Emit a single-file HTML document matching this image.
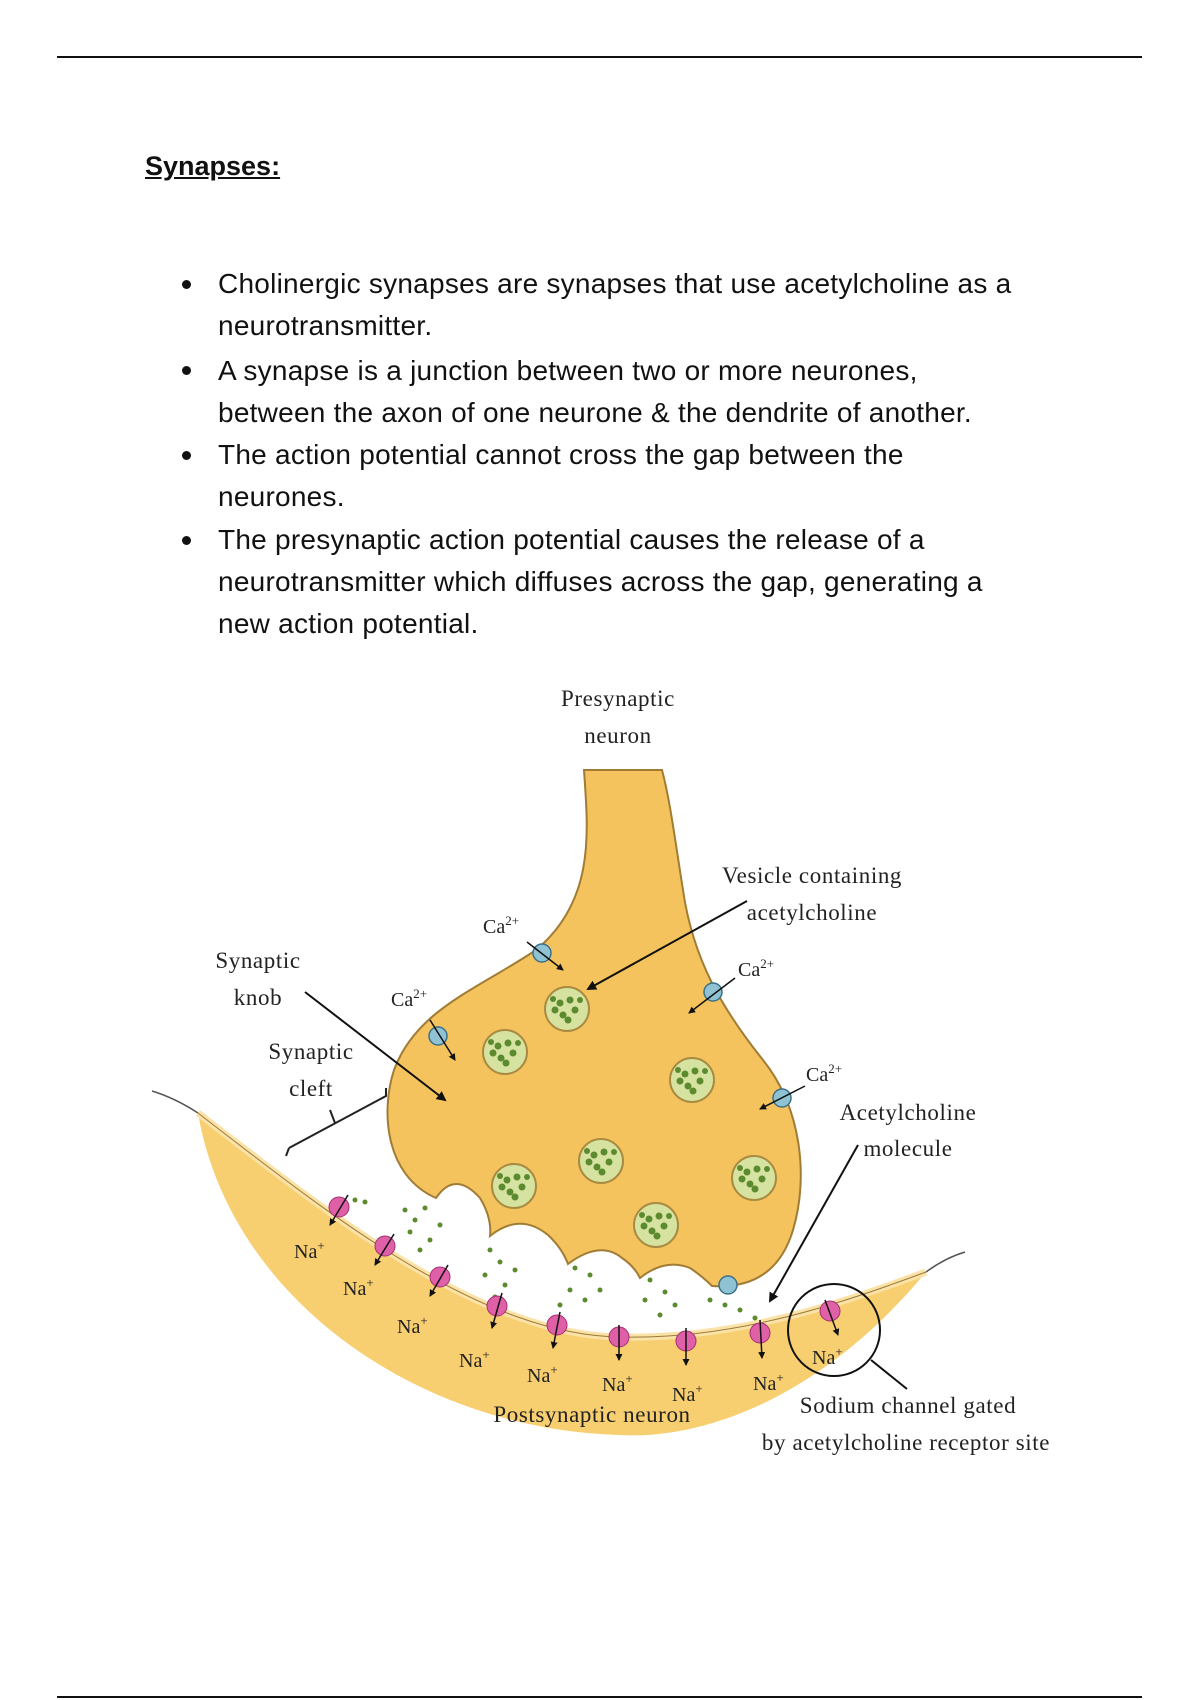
<!DOCTYPE html>
<html><head><meta charset="utf-8"><style>
body{margin:0;background:#fff;width:1200px;height:1700px;position:relative;overflow:hidden;font-family:"Liberation Sans",sans-serif;color:#111}
.hr{position:absolute;left:57px;width:1085px;height:2px;background:#111}
h1{position:absolute;left:145px;top:151px;margin:0;font-size:27px;font-weight:bold;text-decoration:underline}
.b{position:absolute;left:218px;font-size:28px;white-space:nowrap;line-height:42px;letter-spacing:0.25px}
.dot{position:absolute;left:182px;width:9px;height:9px;border-radius:50%;background:#111}
</style></head><body>
<div class="hr" style="top:56px"></div>
<h1>Synapses:</h1>
<div class="dot" style="top:280px"></div>
<div class="b" style="top:263px">Cholinergic synapses are synapses that use acetylcholine as a<br>neurotransmitter.</div>
<div class="dot" style="top:366px"></div>
<div class="b" style="top:350px">A synapse is a junction between two or more neurones,<br>between the axon of one neurone &amp; the dendrite of another.</div>
<div class="dot" style="top:451px"></div>
<div class="b" style="top:434px">The action potential cannot cross the gap between the<br>neurones.</div>
<div class="dot" style="top:536px"></div>
<div class="b" style="top:519px">The presynaptic action potential causes the release of a<br>neurotransmitter which diffuses across the gap, generating a<br>new action potential.</div>
<div class="hr" style="top:1696px"></div>
<svg width="1200" height="1700" style="position:absolute;left:0;top:0" font-family="Liberation Serif,serif" font-size="23" fill="#222" letter-spacing="0.6">
<defs><marker id="a" markerWidth="10" markerHeight="10" refX="8" refY="5" orient="auto" markerUnits="userSpaceOnUse"><path d="M0,0 L10,5 L0,10 Z" fill="#111"/></marker>
<marker id="s" markerWidth="7" markerHeight="7" refX="6" refY="3.5" orient="auto" markerUnits="userSpaceOnUse"><path d="M0,0 L7,3.5 L0,7 Z" fill="#111"/></marker></defs>
<path d="M152,1091 Q175,1098 198,1113" stroke="#555" fill="none" stroke-width="1.5"/>
<path d="M926,1272 Q945,1258 965,1252" stroke="#555" fill="none" stroke-width="1.5"/>
<path d="M198,1113 C330,1215 480,1335 620,1337 C740,1340 850,1300 926,1272 C820,1400 700,1440 620,1435 C420,1430 230,1300 198,1113 Z" fill="#f7cf70"/>
<path d="M198,1113 C330,1215 480,1335 620,1337 C740,1340 850,1300 926,1272" stroke="#fbe3a8" stroke-width="7" fill="none"/>
<path d="M198,1113 C330,1215 480,1335 620,1337 C740,1340 850,1300 926,1272" stroke="#9a7a3a" stroke-width="1" fill="none"/>
<path d="M584,770 C588,830 596,900 536,950 C476,990 416,1010 394,1070 C381,1110 384,1175 436,1198 Q455,1170 480,1198 Q492,1218 490,1236 Q520,1212 548,1235 Q562,1248 568,1264 Q600,1240 622,1258 Q634,1266 640,1278 Q665,1258 690,1268 Q702,1276 712,1286 Q775,1290 793,1230 C808,1180 803,1110 763,1060 C723,1010 693,960 683,890 C675,840 670,800 662,770 Z" fill="#f4c35e" stroke="#a07c34" stroke-width="2"/>
<g fill="#d6e3a0" stroke="#a88a40" stroke-width="2">
<circle cx="567" cy="1009" r="22"/><circle cx="505" cy="1052" r="22"/><circle cx="692" cy="1080" r="22"/><circle cx="601" cy="1161" r="22"/><circle cx="514" cy="1186" r="22"/><circle cx="754" cy="1178" r="22"/><circle cx="656" cy="1225" r="22"/></g>
<g fill="#5c8a2e">
<circle cx="560" cy="1003" r="3.5"/><circle cx="570" cy="1000" r="3.5"/><circle cx="575" cy="1010" r="3.5"/><circle cx="563" cy="1015" r="3.5"/><circle cx="555" cy="1010" r="3.5"/><circle cx="568" cy="1020" r="3.5"/><circle cx="580" cy="1000" r="3"/><circle cx="553" cy="999" r="3"/>
<circle cx="498" cy="1046" r="3.5"/><circle cx="508" cy="1043" r="3.5"/><circle cx="513" cy="1053" r="3.5"/><circle cx="501" cy="1058" r="3.5"/><circle cx="493" cy="1053" r="3.5"/><circle cx="506" cy="1063" r="3.5"/><circle cx="518" cy="1043" r="3"/><circle cx="491" cy="1042" r="3"/>
<circle cx="685" cy="1074" r="3.5"/><circle cx="695" cy="1071" r="3.5"/><circle cx="700" cy="1081" r="3.5"/><circle cx="688" cy="1086" r="3.5"/><circle cx="680" cy="1081" r="3.5"/><circle cx="693" cy="1091" r="3.5"/><circle cx="705" cy="1071" r="3"/><circle cx="678" cy="1070" r="3"/>
<circle cx="594" cy="1155" r="3.5"/><circle cx="604" cy="1152" r="3.5"/><circle cx="609" cy="1162" r="3.5"/><circle cx="597" cy="1167" r="3.5"/><circle cx="589" cy="1162" r="3.5"/><circle cx="602" cy="1172" r="3.5"/><circle cx="614" cy="1152" r="3"/><circle cx="587" cy="1151" r="3"/>
<circle cx="507" cy="1180" r="3.5"/><circle cx="517" cy="1177" r="3.5"/><circle cx="522" cy="1187" r="3.5"/><circle cx="510" cy="1192" r="3.5"/><circle cx="502" cy="1187" r="3.5"/><circle cx="515" cy="1197" r="3.5"/><circle cx="527" cy="1177" r="3"/><circle cx="500" cy="1176" r="3"/>
<circle cx="747" cy="1172" r="3.5"/><circle cx="757" cy="1169" r="3.5"/><circle cx="762" cy="1179" r="3.5"/><circle cx="750" cy="1184" r="3.5"/><circle cx="742" cy="1179" r="3.5"/><circle cx="755" cy="1189" r="3.5"/><circle cx="767" cy="1169" r="3"/><circle cx="740" cy="1168" r="3"/>
<circle cx="649" cy="1219" r="3.5"/><circle cx="659" cy="1216" r="3.5"/><circle cx="664" cy="1226" r="3.5"/><circle cx="652" cy="1231" r="3.5"/><circle cx="644" cy="1226" r="3.5"/><circle cx="657" cy="1236" r="3.5"/><circle cx="669" cy="1216" r="3"/><circle cx="642" cy="1215" r="3"/>
<circle cx="355" cy="1200" r="2.5"/><circle cx="365" cy="1202" r="2.5"/><circle cx="405" cy="1210" r="2.5"/><circle cx="415" cy="1220" r="2.5"/><circle cx="425" cy="1208" r="2.5"/><circle cx="410" cy="1232" r="2.5"/><circle cx="430" cy="1240" r="2.5"/><circle cx="440" cy="1225" r="2.5"/><circle cx="420" cy="1250" r="2.5"/>
<circle cx="490" cy="1250" r="2.5"/><circle cx="500" cy="1262" r="2.5"/><circle cx="485" cy="1275" r="2.5"/><circle cx="505" cy="1285" r="2.5"/><circle cx="495" cy="1297" r="2.5"/><circle cx="515" cy="1270" r="2.5"/>
<circle cx="575" cy="1268" r="2.5"/><circle cx="590" cy="1275" r="2.5"/><circle cx="570" cy="1290" r="2.5"/><circle cx="585" cy="1300" r="2.5"/><circle cx="600" cy="1290" r="2.5"/><circle cx="560" cy="1305" r="2.5"/>
<circle cx="650" cy="1280" r="2.5"/><circle cx="665" cy="1292" r="2.5"/><circle cx="645" cy="1300" r="2.5"/><circle cx="675" cy="1305" r="2.5"/><circle cx="660" cy="1315" r="2.5"/>
<circle cx="710" cy="1300" r="2.5"/><circle cx="725" cy="1305" r="2.5"/><circle cx="740" cy="1310" r="2.5"/><circle cx="755" cy="1318" r="2.5"/></g>
<g fill="#8fc3d4" stroke="#3c7088" stroke-width="1.5">
<circle cx="542" cy="953" r="9"/><circle cx="438" cy="1036" r="9"/><circle cx="713" cy="992" r="9"/><circle cx="782" cy="1098" r="9"/><circle cx="728" cy="1285" r="9"/></g>
<g fill="#e060a8" stroke="#a03070" stroke-width="1">
<circle cx="339" cy="1207" r="10"/><circle cx="385" cy="1246" r="10"/><circle cx="440" cy="1277" r="10"/><circle cx="497" cy="1306" r="10"/><circle cx="557" cy="1325" r="10"/><circle cx="619" cy="1337" r="10"/><circle cx="686" cy="1341" r="10"/><circle cx="760" cy="1333" r="10"/><circle cx="830" cy="1311" r="10"/></g>
<g stroke="#111" stroke-width="1.5" marker-end="url(#s)">
<line x1="348" y1="1195" x2="330" y2="1225"/><line x1="394" y1="1234" x2="375" y2="1265"/><line x1="448" y1="1265" x2="430" y2="1296"/><line x1="502" y1="1293" x2="492" y2="1328"/><line x1="560" y1="1312" x2="553" y2="1348"/><line x1="619" y1="1325" x2="619" y2="1360"/><line x1="686" y1="1328" x2="686" y2="1365"/><line x1="760" y1="1320" x2="762" y2="1358"/><line x1="825" y1="1300" x2="838" y2="1335"/>
<line x1="527" y1="942" x2="563" y2="970"/><line x1="430" y1="1020" x2="455" y2="1060"/><line x1="735" y1="978" x2="689" y2="1013"/><line x1="805" y1="1086" x2="760" y2="1109"/></g>
<g stroke="#111" stroke-width="2" marker-end="url(#a)" fill="none">
<line x1="747" y1="901" x2="588" y2="989"/><line x1="305" y1="992" x2="445" y2="1100"/><line x1="858" y1="1145" x2="770" y2="1301"/></g>
<path d="M289,1148 L286,1156 M289,1148 L386,1096 L386,1088 M335,1123 L330,1110" stroke="#222" stroke-width="2" fill="none"/>
<circle cx="834" cy="1330" r="46" fill="none" stroke="#111" stroke-width="2"/>
<line x1="871" y1="1360" x2="907" y2="1389" stroke="#111" stroke-width="2"/>
<g text-anchor="middle">
<text x="618" y="706">Presynaptic</text><text x="618" y="743">neuron</text>
<text x="812" y="883">Vesicle containing</text><text x="812" y="920">acetylcholine</text>
<text x="258" y="968">Synaptic</text><text x="258" y="1005">knob</text>
<text x="311" y="1059">Synaptic</text><text x="311" y="1096">cleft</text>
<text x="908" y="1120">Acetylcholine</text><text x="908" y="1156">molecule</text>
<text x="908" y="1413">Sodium channel gated</text><text x="906" y="1450">by acetylcholine receptor site</text>
<text x="592" y="1422">Postsynaptic neuron</text>
</g>
<g font-size="20" letter-spacing="0">
<text x="483" y="933">Ca<tspan dy="-8" font-size="13">2+</tspan></text>
<text x="391" y="1006">Ca<tspan dy="-8" font-size="13">2+</tspan></text>
<text x="738" y="976">Ca<tspan dy="-8" font-size="13">2+</tspan></text>
<text x="806" y="1081">Ca<tspan dy="-8" font-size="13">2+</tspan></text>
<text x="294" y="1258">Na<tspan dy="-8" font-size="13">+</tspan></text>
<text x="343" y="1295">Na<tspan dy="-8" font-size="13">+</tspan></text>
<text x="397" y="1333">Na<tspan dy="-8" font-size="13">+</tspan></text>
<text x="459" y="1367">Na<tspan dy="-8" font-size="13">+</tspan></text>
<text x="527" y="1382">Na<tspan dy="-8" font-size="13">+</tspan></text>
<text x="602" y="1391">Na<tspan dy="-8" font-size="13">+</tspan></text>
<text x="672" y="1401">Na<tspan dy="-8" font-size="13">+</tspan></text>
<text x="753" y="1390">Na<tspan dy="-8" font-size="13">+</tspan></text>
<text x="812" y="1364">Na<tspan dy="-8" font-size="13">+</tspan></text>
</g>
</svg>
</body></html>
